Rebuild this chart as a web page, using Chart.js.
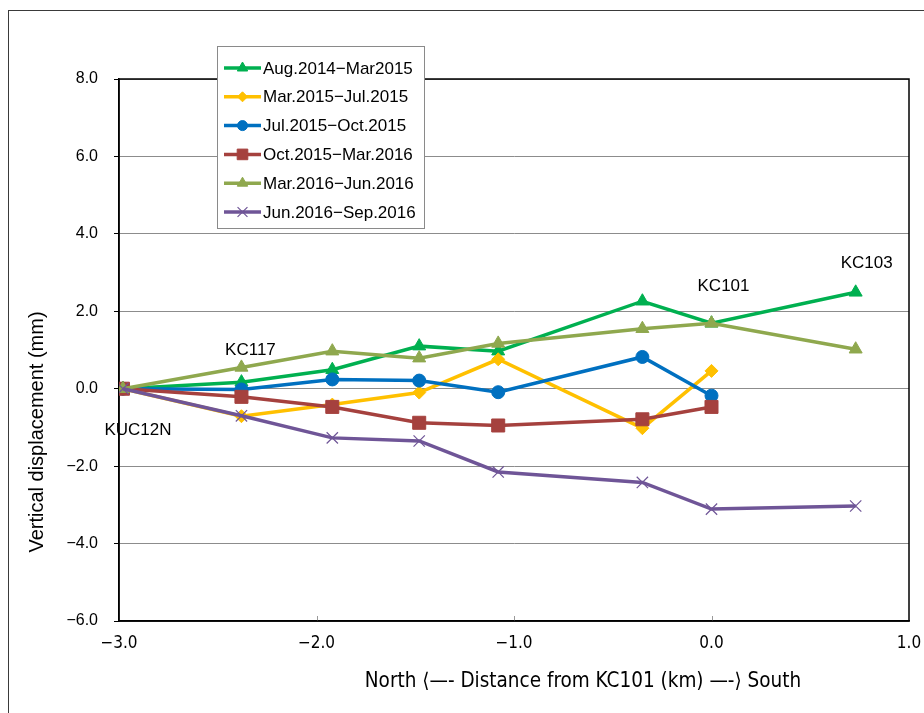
<!DOCTYPE html>
<html>
<head>
<meta charset="utf-8">
<title>Vertical displacement along the leveling route</title>
<script src="https://cdn.jsdelivr.net/npm/chart.js@4.4.1/dist/chart.umd.min.js"></script>
<style>
  html, body { margin: 0; padding: 0; background: #fff; }
  canvas { display: block; }
</style>
</head>
<body>
<canvas id="chart" width="924" height="713"></canvas>
<script>
// Distance of each benchmark from KC101 (km), north negative
const distances = [-2.98, -2.38, -1.92, -1.48, -1.08, -0.35, 0.0, 0.73];

// Survey periods (legend order)
const periods = [
  'Aug.2014\u2212Mar2015',
  'Mar.2015\u2212Jul.2015',
  'Jul.2015\u2212Oct.2015',
  'Oct.2015\u2212Mar.2016',
  'Mar.2016\u2212Jun.2016',
  'Jun.2016\u2212Sep.2016'
];

// Vertical displacement (mm) at each benchmark, per period
const aug2014Mar2015 = [0, 0.17, 0.49, 1.10, 0.97, 2.26, 1.69, 2.49];
const mar2015Jul2015 = [0, -0.71, -0.41, -0.10, 0.76, -1.02, 0.46];
const jul2015Oct2015 = [0, -0.02, 0.24, 0.21, -0.09, 0.82, -0.18];
const oct2015Mar2016 = [0, -0.21, -0.47, -0.88, -0.95, -0.79, -0.47];
const mar2016Jun2016 = [0, 0.55, 0.97, 0.79, 1.17, 1.55, 1.69, 1.02];
const jun2016Sep2016 = [0, -0.70, -1.27, -1.35, -2.15, -2.42, -3.11, -3.03];

// Named benchmarks and their index in the distance list
const stationNames = ['KUC12N', 'KC117', 'KC101', 'KC103'];
const stationIndex = [0, 1, 6, 7];

// Axis ranges and tick steps
const xRange = [-3, 1];
const yRange = [-6, 8];
const xStep = 1;
const yStep = 2;

const seriesValues = [aug2014Mar2015, mar2015Jul2015, jul2015Oct2015,
                      oct2015Mar2016, mar2016Jun2016, jun2016Sep2016];

const seriesStyle = [
  { color: '#00B050', point: 'triangle', radius: 7.5, legendRadius: 6 },
  { color: '#FFC000', point: 'rectRot',  radius: 6.5, legendRadius: 5 },
  { color: '#0070C0', point: 'circle',   radius: 6.5, legendRadius: 5 },
  { color: '#A5413E', point: 'rect',     radius: 9.2, legendRadius: 7.5 },
  { color: '#8FA84E', point: 'triangle', radius: 7.5, legendRadius: 6 },
  { color: '#6F5597', point: 'crossRot', radius: 8,   legendRadius: 7 }
];

const SANS = "'Liberation Sans', Arial, sans-serif";
const NARROW = "'Liberation Sans Narrow', 'DejaVu Sans Condensed', 'Liberation Sans', sans-serif";

function fmt(v) {
  return v.toFixed(1).replace('-', '\u2212');
}

const datasets = seriesValues.map((vals, i) => {
  const s = seriesStyle[i];
  return {
    label: periods[i],
    data: vals.map((v, k) => ({ x: distances[k], y: v })),
    borderColor: s.color,
    backgroundColor: s.color,
    borderWidth: 3.5,
    pointStyle: s.point,
    pointRadius: s.radius,
    pointHoverRadius: s.radius,
    pointBorderWidth: s.point === 'crossRot' ? 1.2 : 1,
    pointBorderColor: s.color,
    pointBackgroundColor: s.color,
    showLine: true,
    tension: 0,
    // later periods are painted over earlier ones
    order: seriesValues.length - i
  };
});

const decorPlugin = {
  id: 'decor',
  beforeDraw(chart) {
    const ctx = chart.ctx;
    ctx.save();
    ctx.fillStyle = '#fff';
    ctx.fillRect(0, 0, chart.width, chart.height);
    // outer frame of the figure
    ctx.strokeStyle = '#3a3a3a';
    ctx.lineWidth = 1;
    ctx.strokeRect(8.5, 10.5, chart.width + 20, chart.height + 20);
    ctx.restore();
  },
  beforeDatasetsDraw(chart) {
    const ctx = chart.ctx;
    const a = chart.chartArea;
    const xs = chart.scales.x;
    ctx.save();
    // small inward ticks on the distance axis
    ctx.strokeStyle = '#9a9a9a';
    ctx.lineWidth = 1;
    for (let v = xRange[0] + xStep; v < xRange[1]; v += xStep) {
      const px = Math.round(xs.getPixelForValue(v)) + 0.5;
      ctx.beginPath();
      ctx.moveTo(px, a.bottom);
      ctx.lineTo(px, a.bottom - 5);
      ctx.stroke();
    }
    // plot box
    ctx.strokeStyle = '#000';
    ctx.lineWidth = 1.5;
    ctx.strokeRect(a.left, a.top, a.right - a.left, a.bottom - a.top);
    ctx.restore();
  },
  afterDraw(chart) {
    const ctx = chart.ctx;
    const xs = chart.scales.x;
    const ys = chart.scales.y;
    ctx.save();

    // benchmark names
    const labelOffsets = [[15, 42], [9, -38], [12, -102], [11, -125]];
    ctx.fillStyle = '#000';
    ctx.font = '17px ' + SANS;
    ctx.textAlign = 'center';
    ctx.textBaseline = 'middle';
    stationNames.forEach((name, i) => {
      const px = xs.getPixelForValue(distances[stationIndex[i]]);
      const py = ys.getPixelForValue(0);
      ctx.fillText(name, px + labelOffsets[i][0], py + labelOffsets[i][1]);
    });

    // axis titles
    ctx.font = '20px ' + SANS;
    ctx.save();
    ctx.translate(37, 432);
    ctx.rotate(-Math.PI / 2);
    ctx.fillText('Vertical displacement (mm)', 0, 0);
    ctx.restore();

    ctx.font = '20.5px ' + NARROW;
    ctx.fillText('North \u27E8\u2014- Distance from KC101 (km) \u2014-\u27E9 South', 583, 682);

    // legend
    const lx = 217, ly = 46, lw = 207, lh = 182;
    ctx.fillStyle = '#fff';
    ctx.fillRect(lx, ly, lw, lh);
    ctx.strokeStyle = '#8a8a8a';
    ctx.lineWidth = 1;
    ctx.strokeRect(lx + 0.5, ly + 0.5, lw, lh);
    ctx.font = '17px ' + SANS;
    ctx.textAlign = 'left';
    ctx.textBaseline = 'middle';
    periods.forEach((p, i) => {
      const s = seriesStyle[i];
      const cy = 68 + i * 28.8;
      ctx.strokeStyle = s.color;
      ctx.lineWidth = 3.5;
      ctx.beginPath();
      ctx.moveTo(224, cy);
      ctx.lineTo(261, cy);
      ctx.stroke();
      ctx.fillStyle = s.color;
      ctx.lineWidth = s.point === 'crossRot' ? 1.2 : 1;
      Chart.helpers.drawPoint(ctx, {
        pointStyle: s.point, radius: s.legendRadius, rotation: 0,
        borderWidth: ctx.lineWidth
      }, 242.5, cy);
      ctx.fillStyle = '#000';
      ctx.fillText(p, 263, cy + 1);
    });
    ctx.restore();
  }
};

new Chart(document.getElementById('chart'), {
  type: 'scatter',
  data: { datasets },
  options: {
    responsive: false,
    animation: false,
    devicePixelRatio: 1,
    layout: { padding: { left: 0, top: 79, right: 15, bottom: 0 } },
    plugins: {
      legend: { display: false },
      tooltip: { enabled: false }
    },
    scales: {
      x: {
        type: 'linear',
        min: xRange[0],
        max: xRange[1],
        afterFit(scale) {
          scale.height = 92;
          scale.paddingLeft = 0;
          scale.paddingRight = 0;
        },
        ticks: {
          stepSize: xStep,
          callback: v => fmt(v),
          color: '#000',
          font: { family: NARROW, size: 17 },
          padding: 12,
          maxRotation: 0
        },
        grid: { drawOnChartArea: false, drawTicks: false },
        border: { color: '#000', width: 1.5 }
      },
      y: {
        min: yRange[0],
        max: yRange[1],
        afterFit(scale) { scale.width = 119; },
        ticks: {
          stepSize: yStep,
          callback: v => fmt(v),
          color: '#000',
          font: { family: SANS, size: 16 },
          padding: 16
        },
        grid: { color: '#8c8c8c', lineWidth: 1, tickLength: 5, tickColor: '#000' },
        border: { color: '#000', width: 1.5 }
      }
    }
  },
  plugins: [decorPlugin]
});
</script>
</body>
</html>
